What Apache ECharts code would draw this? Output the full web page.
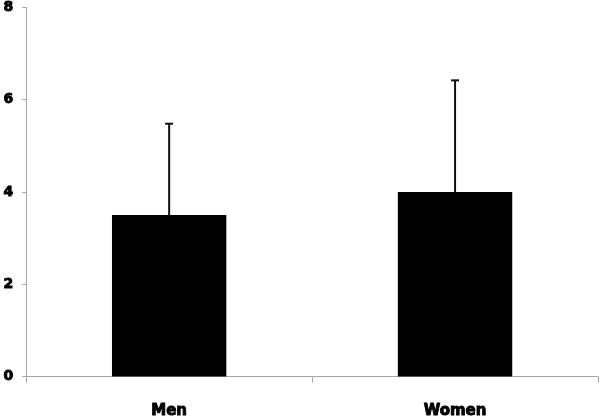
<!DOCTYPE html>
<html>
<head>
<meta charset="utf-8">
<script src="https://cdn.jsdelivr.net/npm/echarts@6/dist/echarts.min.js"></script>
<style>
html, body { margin: 0; padding: 0; background: #fff; }
#container { width: 600px; height: 419px; }
</style>
</head>
<body>
<div id="container"></div>
<script>
// groups and their means, with the upper end of each error bar
var categories = ['Men', 'Women'];
var means = [3.5, 4.0];
var errorTops = [5.48, 6.42];
var yTicks = [0, 2, 4, 6, 8];

var dom = document.getElementById('container');
var myChart = echarts.init(dom);

var errData = [];
for (var i = 0; i < categories.length; i++) {
    errData.push([i, means[i], errorTops[i]]);
}

// heavy black labels, like the original's Verdana-style bold
var labelStyle = {
    color: '#000',
    fontFamily: 'DejaVu Sans',
    fontWeight: 'bold',
    textBorderColor: '#000',
    textBorderWidth: 0.9
};

var option = {
    backgroundColor: '#fff',
    animation: false,
    grid: { left: 23, right: 2, top: 5, bottom: 40 },
    xAxis: {
        type: 'category',
        data: categories,
        axisLine: { lineStyle: { color: '#a6a6a6', width: 1 } },
        axisTick: { show: true, length: 6, lineStyle: { color: '#a6a6a6' } },
        axisLabel: Object.assign({ fontSize: 15, margin: 27 }, labelStyle)
    },
    yAxis: {
        type: 'value',
        min: yTicks[0],
        max: yTicks[yTicks.length - 1],
        interval: 2,
        axisLine: { show: true, lineStyle: { color: '#a6a6a6', width: 1 } },
        axisTick: { show: true, length: 4, lineStyle: { color: '#a6a6a6' } },
        splitLine: { show: false },
        axisLabel: Object.assign({ fontSize: 14, margin: 13 }, labelStyle)
    },
    series: [
        {
            type: 'bar',
            data: means,
            barWidth: '40%',
            itemStyle: { color: '#000' }
        },
        {
            type: 'custom',
            data: errData,
            z: 3,
            renderItem: function (params, api) {
                var base = api.coord([api.value(0), api.value(1)]);
                var top = api.coord([api.value(0), api.value(2)]);
                var cap = 4;
                var style = { stroke: '#111', lineWidth: 2 };
                return {
                    type: 'group',
                    children: [
                        { type: 'line', shape: { x1: base[0], y1: base[1], x2: top[0], y2: top[1] }, style: style },
                        { type: 'line', shape: { x1: top[0] - cap, y1: top[1], x2: top[0] + cap, y2: top[1] }, style: style }
                    ]
                };
            }
        }
    ]
};
myChart.setOption(option, true);
</script>
</body>
</html>
